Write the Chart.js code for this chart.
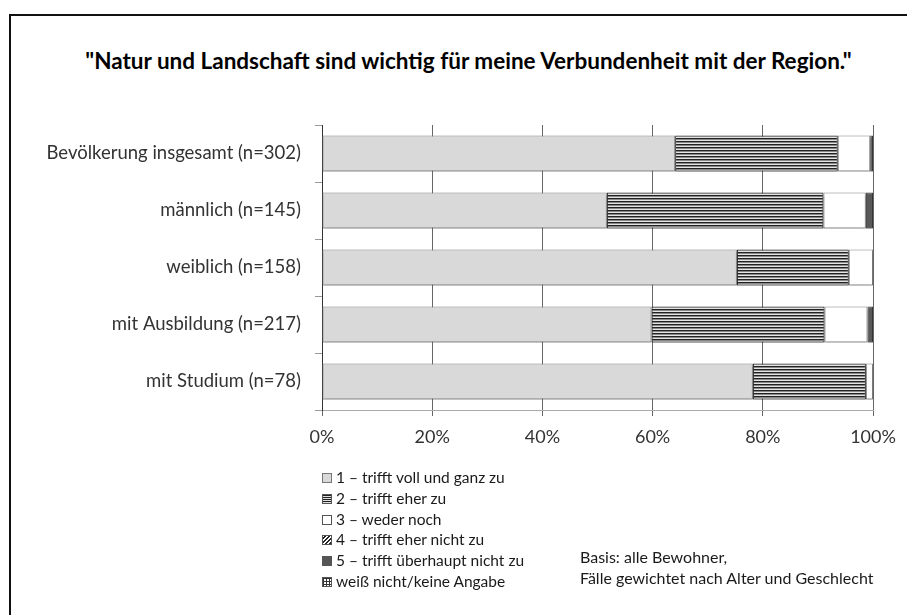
<!DOCTYPE html>
<html>
<head>
<meta charset="utf-8">
<script src="https://cdn.jsdelivr.net/npm/chart.js@4"></script>
<style>
  body { margin: 0; background: #fff; font-family: Lato, sans-serif; }
  #page { position: relative; width: 907px; height: 615px; overflow: hidden; }
  #frame { position: absolute; left: 9px; top: 14px; right: -5px; bottom: -5px; border-left: 2px solid #111; border-top: 2px solid #111; }
  #box { position: absolute; left: 0; top: 0; width: 907px; height: 615px; }
  #title { position: absolute; left: 0; width: 937px; top: 47px; text-align: center; font-weight: bold; font-size: 22.5px; color: #000; }
  #legend { position: absolute; left: 322px; top: 467px; margin: 0; padding: 0; list-style: none; font-size: 15.5px; color: #1a1a1a; }
  #legend li { height: 20.8px; line-height: 20.8px; white-space: nowrap; }
  #legend i { display: inline-block; width: 8px; height: 8px; border: 1px solid #555; margin-right: 4px; vertical-align: 0px; }
  #note { position: absolute; left: 580px; top: 546px; font-size: 16px; line-height: 21px; color: #1a1a1a; }
</style>
</head>
<body>
<div id="page">
  <div id="frame"></div>
  <div id="title">"Natur und Landschaft sind wichtig für meine Verbundenheit mit der Region."</div>
  <div id="box"><canvas id="chart"></canvas></div>
  <ul id="legend"></ul>
  <div id="note">Basis: alle Bewohner,<br>Fälle gewichtet nach Alter und Geschlecht</div>
</div>
<script>
const groups = ["Bevölkerung insgesamt (n=302)", "männlich (n=145)", "weiblich (n=158)", "mit Ausbildung (n=217)", "mit Studium (n=78)"];
const answers = ["1 – trifft voll und ganz zu", "2 – trifft eher zu", "3 – weder noch", "4 – trifft eher nicht zu", "5 – trifft überhaupt nicht zu", "weiß nicht/keine Angabe"];

// Prozent je Gruppe
const voll = [64.1, 51.7, 75.3, 59.8, 78.2];
const eher = [29.5, 39.3, 20.3, 31.4, 20.5];
const weder = [5.9, 7.7, 4.4, 7.8, 1.3];
const eherNicht = [0, 0, 0, 0, 0];
const garNicht = [0.5, 1.3, 0, 1.0, 0];
const keineAngabe = [0, 0, 0, 0, 0];

const xTicks = [0, 20, 40, 60, 80, 100];

// Streifenmuster fuer "trifft eher zu"
function stripes() {
  const c = document.createElement("canvas");
  c.width = 4; c.height = 3;
  const g = c.getContext("2d");
  g.fillStyle = "#e4e4e4"; g.fillRect(0, 0, 4, 3);
  g.fillStyle = "#222"; g.fillRect(0, 0, 4, 1);
  g.fillStyle = "#888"; g.fillRect(0, 1, 4, 1);
  return g.createPattern(c, "repeat");
}

const iconStyles = [
  "background:#d9d9d9;border-color:#777",
  "background:repeating-linear-gradient(to bottom,#222 0 1px,#ddd 1px 2px)",
  "background:#fff",
  "background:repeating-linear-gradient(-45deg,#222 0 1.5px,#fff 1.5px 3px)",
  "background:#555",
  "background:repeating-linear-gradient(to right,#333 0 1px,transparent 1px 3px),repeating-linear-gradient(to bottom,#333 0 1px,#fff 1px 3px)"
];
document.getElementById("legend").innerHTML = answers
  .map((a, i) => `<li><i style="${iconStyles[i]}"></i>${a}</li>`).join("");

const barShadow = {
  id: "barShadow",
  beforeDatasetsDraw(chart) {
    const c = chart.ctx;
    c.save();
    c.shadowColor = "rgba(0,0,0,0.35)";
    c.shadowOffsetY = 2;
    c.shadowBlur = 2;
  },
  afterDatasetsDraw(chart) { chart.ctx.restore(); }
};

const border = ctx => (ctx.raw > 0 ? 1 : 0);
function ds(label, data, bg, bc) {
  return { label, data, backgroundColor: bg, borderColor: bc, borderWidth: border, borderSkipped: false };
}

new Chart(document.getElementById("chart"), {
  type: "bar",
  data: {
    labels: groups,
    datasets: [
      ds(answers[0], voll, "#d9d9d9", "#858585"),
      ds(answers[1], eher, stripes(), "#1e1e1e"),
      ds(answers[2], weder, "#ffffff", "#858585"),
      ds(answers[3], eherNicht, "#888888", "#333"),
      ds(answers[4], garNicht, "#595959", "#3a3a3a"),
      ds(answers[5], keineAngabe, "#aaaaaa", "#333")
    ]
  },
  options: {
    indexAxis: "y",
    responsive: true,
    maintainAspectRatio: false,
    animation: false,
    barPercentage: 0.63,
    categoryPercentage: 1,
    layout: { padding: { left: 0, top: 125, right: 34, bottom: 165 } },
    plugins: { legend: { display: false }, tooltip: { enabled: false } },
    scales: {
      x: {
        stacked: true, min: 0, max: 100,
        afterFit: s => { s.height = 40; },
        afterBuildTicks: s => { s.ticks = xTicks.map(v => ({ value: v })); },
        ticks: { callback: v => v + "%", color: "#333", font: { family: "Lato", size: 18 }, padding: 10 },
        grid: { color: "#666", tickLength: 6, lineWidth: 1 },
        border: { color: "#aaa" }
      },
      y: {
        stacked: true,
        afterFit: s => { s.width = 322; },
        ticks: { color: "#333", font: { family: "Lato", size: 18.5 }, padding: 14 },
        grid: { drawOnChartArea: false, tickLength: 7, color: "#999" },
        border: { color: "#333" }
      }
    }
  },
  plugins: [barShadow]
});
</script>
</body>
</html>
